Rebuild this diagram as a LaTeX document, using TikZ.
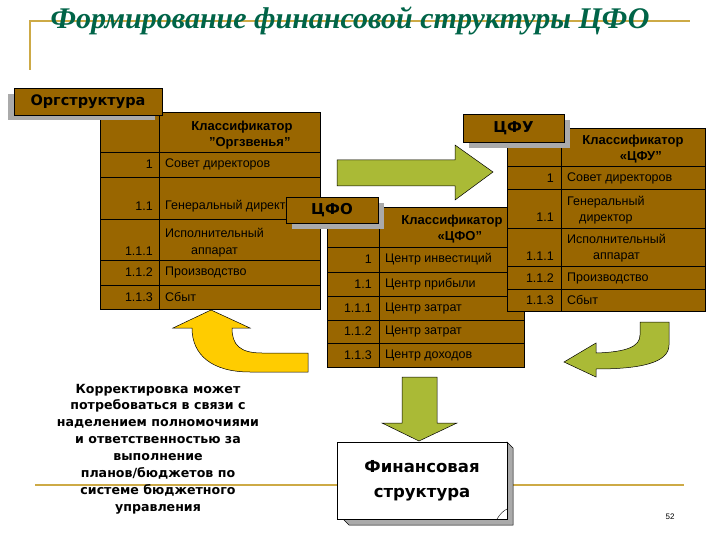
\documentclass[tikz,border=0pt]{standalone}
\usepackage{fontspec}
\setmainfont{Liberation Sans}
\newfontfamily\boldsans{DejaVu Sans}
\newfontfamily\titlefont{Liberation Serif}
\usetikzlibrary{positioning}
\definecolor{cellbrown}{RGB}{153,102,0}
\definecolor{olivearrow}{RGB}{170,186,54}
\definecolor{goldarrow}{RGB}{255,204,0}
\definecolor{titlegreen}{RGB}{0,100,72}
\definecolor{rulegold}{RGB}{205,170,70}
\definecolor{shadowgray}{RGB}{170,170,170}
\tikzset{
  cell/.style={draw=black,fill=cellbrown,line width=0.6pt},
  num/.style={anchor=east,inner sep=0pt,font=\fontsize{12.5}{14}\selectfont},
  txt/.style={anchor=west,inner sep=0pt,align=center,font=\fontsize{12.5}{16.5}\selectfont},
  head/.style={inner sep=0pt,align=center,font=\bfseries\fontsize{13}{15.5}\selectfont},
  tag/.style={draw=black,fill=cellbrown,line width=0.6pt,inner sep=0pt,font=\boldsans\bfseries\fontsize{15}{17}\selectfont},
  blockarrow/.style={draw=black,line width=0.5pt}
}
\begin{document}
\begin{tikzpicture}[x=1pt,y=-1pt]
\useasboundingbox (0,0) rectangle (720,540);
% title and rules
\draw [rulegold,line width=1.5pt] (30,70) -- (30,21) -- (690,21);
\draw [rulegold,line width=1.5pt] (35,485) -- (684,485);
\node (title) at (350,21) {\titlefont\bfseries\itshape\fontsize{30}{32}\selectfont\color{titlegreen}Формирование финансовой структуры ЦФО};
% table "Оргзвенья"
\foreach \a/\b in {112/152,152/177,177/219,219/260,260/285,285/309} {
  \draw [cell] (100,\a) rectangle (159,\b);
  \draw [cell] (159,\a) rectangle (320,\b);
}
\node [head] (orghead) at (242,135) {Классификатор\\\hspace*{1.2em}"Оргзвенья"};
\node [num] (org1n) at (153,164.5) {1};
\node [txt] (org1) at (165,164.5) {Совет директоров};
\node [num] (org2n) at (153,206) {1.1};
\node [txt] (org2) at (165,206) {Генеральный директор};
\node [num] (org3n) at (153,251) {1.1.1};
\node [txt] (org3) at (165,242.5) {Исполнительный\\аппарат};
\node [num] (org4n) at (153,272) {1.1.2};
\node [txt] (org4) at (165,272) {Производство};
\node [num] (org5n) at (153,297) {1.1.3};
\node [txt] (org5) at (165,297) {Сбыт};
% table "ЦФО"
\foreach \a/\b in {207/247,247/272,272/296,296/320,320/343,343/367} {
  \draw [cell] (327,\a) rectangle (379,\b);
  \draw [cell] (379,\a) rectangle (524,\b);
}
\node [head] (cfohead) at (452,229) {Классификатор\\\hspace*{1.2em}«ЦФО"};
\node [num] (cfo1n) at (372,259.5) {1};
\node [txt] (cfo1) at (385,259.5) {Центр инвестиций};
\node [num] (cfo2n) at (372,284) {1.1};
\node [txt] (cfo2) at (385,284) {Центр прибыли};
\node [num] (cfo3n) at (372,308) {1.1.1};
\node [txt] (cfo3) at (385,308) {Центр затрат};
\node [num] (cfo4n) at (372,331.5) {1.1.2};
\node [txt] (cfo4) at (385,331.5) {Центр затрат};
\node [num] (cfo5n) at (372,355) {1.1.3};
\node [txt] (cfo5) at (385,355) {Центр доходов};
% table "ЦФУ"
\foreach \a/\b in {128/166,166/189,189/228,228/266,266/289,289/311} {
  \draw [cell] (507,\a) rectangle (561,\b);
  \draw [cell] (561,\a) rectangle (705,\b);
}
\node [head] (cfuhead) at (633,149) {Классификатор\\\hspace*{1.2em}«ЦФУ"};
\node [num] (cfu1n) at (554,178) {1};
\node [txt] (cfu1) at (567,178) {Совет директоров};
\node [num] (cfu2n) at (554,217) {1.1};
\node [txt] (cfu2) at (567,210) {Генеральный\\директор};
\node [num] (cfu3n) at (554,256) {1.1.1};
\node [txt] (cfu3) at (567,248) {Исполнительный\\аппарат};
\node [num] (cfu4n) at (554,278) {1.1.2};
\node [txt] (cfu4) at (567,278) {Производство};
\node [num] (cfu5n) at (554,300) {1.1.3};
\node [txt] (cfu5) at (567,300) {Сбыт};
% labels with shadows
\fill [shadowgray] (8,94) rectangle (155,120);
\node [tag,minimum width=148,minimum height=27,font=\boldsans\bfseries\fontsize{14.5}{16}\selectfont] (orgtag) at (88,101.5) {Оргструктура};
\fill [shadowgray] (292,203) rectangle (384,229);
\node [tag,minimum width=92,minimum height=26] (cfotag) at (332,210) {ЦФО};
\fill [shadowgray] (469,120) rectangle (570,148);
\node [tag,minimum width=101,minimum height=28] (cfutag) at (513.5,128) {ЦФУ};
% block arrows
\filldraw [blockarrow,fill=olivearrow] (337,160) -- (455,160) -- (455,145) -- (493,172) -- (455,200) -- (455,186) -- (337,186) -- cycle;
\filldraw [blockarrow,fill=goldarrow] (211,310) -- (250,328) -- (232,328) .. controls (232,345) and (240,353) .. (262,353) -- (308,353) -- (308,372) -- (250,372) .. controls (212,372) and (192,355) .. (192,328) -- (173,328) -- cycle;
\filldraw [blockarrow,fill=olivearrow] (564,362) -- (596,343) -- (596,353) .. controls (628,352) and (640,346) .. (640,335) -- (640,322) -- (669,322) -- (669,345) .. controls (669,363) and (640,369) .. (596,369) -- (596,377) -- cycle;
\filldraw [blockarrow,fill=olivearrow] (402,377) -- (437,377) -- (437,423) -- (457,423) -- (419,441) -- (382,423) -- (402,423) -- cycle;
% result box
\filldraw [draw=black,fill=shadowgray,line width=0.5pt] (343,519) -- (349,525) -- (513,525) -- (513,448) -- (507,442) -- (507,519) -- cycle;
\node [draw=black,fill=white,line width=0.6pt,minimum width=170,minimum height=77,align=center,font=\boldsans\bfseries\fontsize{16.5}{25}\selectfont] (fin) at (422,480.5) {Финансовая\\структура};
\draw [line width=0.4pt] (497,519) .. controls (500,514) and (503,511) .. (507,509);
% note and page number
\node [align=center,inner sep=0pt,font=\boldsans\bfseries\fontsize{12.6}{16.9}\selectfont] (note) at (158,449) {Корректировка может\\потребоваться в связи с\\наделением полномочиями\\и ответственностью за\\выполнение\\планов/бюджетов по\\системе бюджетного\\управления};
\node [font=\fontsize{8}{9}\selectfont] (page) at (670,517) {52};
\end{tikzpicture}
\end{document}
